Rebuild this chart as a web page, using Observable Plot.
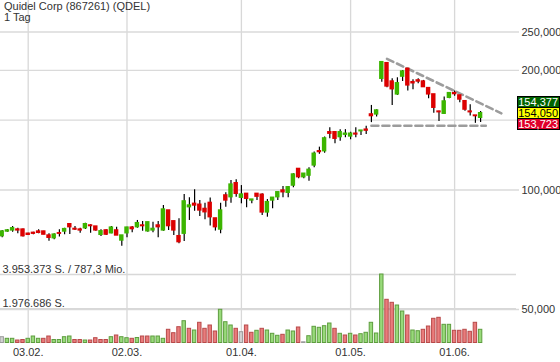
<!DOCTYPE html>
<html>
<head>
<meta charset="utf-8">
<script src="https://cdn.jsdelivr.net/npm/d3@7"></script>
<script src="https://cdn.jsdelivr.net/npm/@observablehq/plot@0.6"></script>
<style>
  html, body { margin: 0; padding: 0; background: #fff; }
  #wrap { position: relative; width: 560px; height: 362px; overflow: hidden;
          font-family: "Liberation Sans", Arial, sans-serif; }
  #wrap svg { position: absolute; left: 0; top: 0; }
  .title { position: absolute; left: 4px; top: 1px; font-size: 11px; line-height: 11px; color: #333; white-space: nowrap; }
  .pbox { position: absolute; left: 517px; width: 43px; height: 11.3px; box-sizing: border-box;
          border: 1px solid #000; font-size: 11px; line-height: 10px; text-align: right; padding-right: 1px; }
</style>
</head>
<body>
<div id="wrap"></div>
<script>
// ---------- data ----------
const titleLines = ["Quidel Corp (867261) (QDEL)", "1 Tag"];
const holidays = ["2020-02-17", "2020-04-10", "2020-05-25"];
const firstDay = "2020-01-27", lastAxisDay = "2020-06-12";

const opens  = [76.5,78.6,79.1,79.5,79.5,77.6,78.0,78.6,78.6,76.8,
                75.6,77.8,78.6,82.0,79.8,79.5,80.1,81.4,80.9,77.1,
                79.1,77.8,79.1,74.6,77.8,80.4,80.6,81.4,78.7,79.1,
                81.4,79.1,88.8,83.4,76.5,77.6,90.5,92.3,91.8,89.6,
                92.8,84.8,79.5,96.9,95.9,104.0,95.6,97.8,94.1,97.8,
                97.3,87.8,94.1,95.9,99.7,98.4,102.6,113.0,107.7,108.7,
                115.3,125.2,125.2,139.8,139.8,135.9,137.8,136.4,138.6,140.6,
                141.9,155.0,155.0,190.6,208.7,187.6,174.1,193.0,202.0,186.9,
                188.8,187.6,180.6,174.1,157.6,155.6,170.7,175.4,173.1,167.4,
                157.6,154.0,152.0];
const closes = [78.6,79.1,80.1,79.1,76.5,77.1,77.6,78.0,77.2,75.8,
                77.2,77.6,79.7,80.6,79.5,79.1,82.0,81.1,79.1,78.7,
                77.2,80.4,76.8,76.8,80.4,79.7,82.5,81.1,82.9,79.8,
                80.6,89.3,81.1,79.1,73.9,93.6,91.4,91.4,88.8,87.9,
                85.4,80.6,88.8,94.1,103.2,97.8,97.4,95.0,94.6,96.2,
                87.8,93.2,95.6,98.7,98.7,101.6,109.4,107.7,109.9,112.4,
                123.4,124.6,134.9,138.6,134.6,139.8,138.6,138.6,138.0,141.1,
                141.1,153.5,158.6,209.9,182.3,179.4,185.7,198.8,183.4,185.7,
                187.6,181.6,174.1,161.1,157.0,167.1,175.4,174.4,169.0,159.4,
                157.0,153.5,156.1];
const highs  = [79.1,79.5,80.9,80.1,79.7,77.8,78.3,79.4,78.7,77.6,
                77.6,79.4,80.1,82.2,80.9,80.1,82.5,81.7,80.9,79.4,
                79.4,80.9,80.6,76.8,80.6,80.9,83.8,83.3,82.9,82.9,
                83.3,91.4,88.8,83.4,84.6,97.4,95.6,100.1,94.1,92.6,
                95.4,84.8,92.6,98.4,105.7,106.1,102.6,97.8,94.6,97.8,
                97.8,94.6,95.6,98.7,102.0,102.0,109.9,113.0,109.9,113.7,
                124.6,128.2,135.9,143.5,139.8,141.9,141.9,139.8,143.5,141.1,
                144.7,163.3,159.2,209.9,208.7,190.6,191.7,200.0,202.0,189.5,
                190.6,188.8,180.6,174.1,157.9,171.4,175.4,177.5,173.1,167.4,
                163.9,154.0,157.6];
const lows   = [75.8,78.3,78.3,77.6,76.1,76.8,77.1,77.6,77.1,74.3,
                74.9,76.1,77.1,77.2,79.1,77.8,79.5,77.8,78.7,76.4,
                76.8,77.6,76.8,72.2,75.8,78.0,80.1,78.7,78.3,78.0,
                75.8,78.7,79.1,76.8,73.2,74.2,83.8,88.4,85.7,84.1,
                81.1,78.8,77.6,90.5,92.6,95.9,92.3,90.2,92.3,94.1,
                86.3,85.4,89.7,94.1,95.6,95.6,101.3,106.7,106.7,105.2,
                113.7,123.0,123.8,134.6,130.8,132.6,135.4,133.8,135.4,137.2,
                138.0,147.8,152.6,186.9,181.0,163.3,173.1,187.6,177.5,178.9,
                185.1,181.6,169.8,156.1,148.8,155.0,169.8,172.3,165.8,157.8,
                153.5,147.2,147.8];
const volumes = [335000,242000,242000,144000,173000,242000,375000,242000,242000,375000,
                 173000,173000,335000,375000,173000,173000,144000,144000,277000,173000,
                 173000,335000,433000,335000,277000,242000,289000,375000,375000,375000,
                 375000,242000,762000,566000,912000,1258000,819000,721000,1166000,819000,
                 1010000,664000,1916000,1200000,1010000,819000,623000,1010000,589000,704000,
                 819000,721000,531000,416000,473000,721000,664000,895000,40000,392000,
                 935000,877000,970000,1125000,819000,531000,433000,531000,433000,508000,
                 589000,1166000,548000,3953373,2493000,2320000,2164000,1818000,1587000,721000,
                 681000,762000,952000,1397000,1454000,1050000,1050000,704000,704000,762000,
                 646000,1166000,762000];
const volumeDirection = ["n","u","u","d","d","u","u","u","d","d",
                         "u","u","u","u","d","d","u","d","d","d",
                         "d","u","d","u","u","d","u","d","d","u",
                         "u","u","d","d","d","u","d","u","d","d",
                         "d","d","u","u","u","d","n","d","d","u",
                         "d","u","u","u","d","u","u","d","n","u",
                         "u","u","u","u","d","u","d","u","d","u",
                         "u","u","u","u","d","d","u","u","d","u",
                         "u","d","d","d","d","u","u","d","d","d",
                         "d","d","u"];
const volumeMax = 3953373;
const volumeLabels = ["3.953.373 S. / 787,3 Mio.", "1.976.686 S."];
const priceGrid = [50, 100, 150, 200, 250];
const priceTickLabels = [50, 100, 200, 250];   // the 150 label sits behind the quote boxes
const dateTicks = ["2020-02-03", "2020-03-02", "2020-04-01", "2020-05-01", "2020-06-01"];
const quoteValues = ["154,377", "154,050", "153,723"];
const trendUpperDates = ["2020-05-12", "2020-06-12"];
const trendUpperPrices = [214, 156];
const supportDates = ["2020-05-07", "2020-06-09"];
const supportPrices = [145.1, 145.1];

// ---------- build ----------
const dates = [];
for (let d = new Date(firstDay + "T00:00:00Z"); d <= new Date(lastAxisDay + "T00:00:00Z"); d.setUTCDate(d.getUTCDate() + 1)) {
  const wd = d.getUTCDay(), s = d.toISOString().slice(0, 10);
  if (wd > 0 && wd < 6 && !holidays.includes(s)) dates.push(s);
}
const candles = opens.map((o, i) => ({
  date: dates[i], open: o, close: closes[i], high: highs[i], low: lows[i],
  up: closes[i] >= o
}));
const vols = volumes.map((v, i) => ({date: dates[i], vol: v, dir: volumeDirection[i]}));
const trendUpper = trendUpperDates.map((d, i) => ({date: d, price: trendUpperPrices[i]}));
const support = supportDates.map((d, i) => ({date: d, price: supportPrices[i]}));
const volumeLevels = [{v: volumeMax, t: volumeLabels[0]}, {v: volumeMax / 2, t: volumeLabels[1]}];

const xOpts = {type: "band", domain: dates, range: [-0.9, 503.5], paddingInner: 0.15, paddingOuter: 0.075, align: 0.5, round: false};
const font = {fontFamily: "'Liberation Sans', Arial, sans-serif", fontSize: "11px", color: "#333", background: "transparent", overflow: "visible"};
const fmtDate = d => `${d.slice(8, 10)}.${d.slice(5, 7)}.`;
const fmtPrice = v => v.toFixed(3).replace(".", ",");

const pricePlot = Plot.plot({
  width: 560, height: 362,
  marginTop: 0, marginBottom: 20, marginLeft: 0, marginRight: 41,
  style: font,
  x: xOpts,
  y: {type: "log", domain: [50, 250], range: [309, 31.5]},
  color: {type: "identity"},
  marks: [
    Plot.ruleX(dateTicks, {stroke: "#d8d8d8", strokeWidth: 1.3}),
    Plot.ruleY(priceGrid, {stroke: "#dadada", strokeWidth: 1.3}),
    Plot.axisX(dateTicks, {anchor: "bottom", tickSize: 0, tickPadding: 6, tickFormat: fmtDate, label: null}),
    Plot.axisY(priceTickLabels, {anchor: "right", tickSize: 0, tickPadding: 2, tickFormat: fmtPrice, label: null}),
    Plot.line(trendUpper, {x: "date", y: "price", stroke: "#9c9c9c", strokeWidth: 2.6, strokeDasharray: "7,4"}),
    Plot.line(support, {x: "date", y: "price", stroke: "#9c9c9c", strokeWidth: 2.6, strokeDasharray: "7,4"}),
    Plot.ruleX(candles, {x: "date", y1: "low", y2: "high", stroke: "#000", strokeWidth: 1.2}),
    Plot.barY(candles, {
      x: "date",
      y1: d => Math.min(d.open, d.close),
      y2: d => Math.max(d.open, d.close),
      fill: d => d.up ? "#3cb500" : "#dc0000",
      insetTop: -0.7, insetBottom: -0.7
    })
  ]
});

const fillFor = {u: "#92d873", d: "#e87575", n: "#d0d0d0"};
const strokeFor = {u: "#5e9d3f", d: "#b84a4a", n: "#9a9a9a"};
const volumePlot = Plot.plot({
  width: 560, height: 362,
  marginTop: 0, marginBottom: 20, marginLeft: 0, marginRight: 44,
  style: font,
  x: {...xOpts, axis: null},
  y: {type: "linear", domain: [0, volumeMax], range: [342.5, 274], axis: null},
  color: {type: "identity"},
  marks: [
    Plot.ruleY(volumeLevels, {y: "v", stroke: "#d8d8d8", strokeWidth: 1.6}),
    Plot.text(volumeLevels, {y: "v", text: "t", frameAnchor: "left", textAnchor: "start", dx: 2, dy: -5.5, fill: "#333"}),
    Plot.barY(vols, {
      x: "date", y: "vol",
      fill: d => fillFor[d.dir], stroke: d => strokeFor[d.dir],
      strokeWidth: 1, fillOpacity: 0.95, insetLeft: 0.5, insetRight: 0.5
    })
  ]
});

const wrap = document.getElementById("wrap");
wrap.appendChild(pricePlot);
wrap.appendChild(volumePlot);

const title = document.createElement("div");
title.className = "title";
title.innerHTML = titleLines.map(t => `<div>${t}</div>`).join("");
wrap.appendChild(title);

// quote boxes centered on the last close
const yMid = pricePlot.scale("y").apply(closes[closes.length - 1]);
const boxStyles = [
  {bg: "#006400", fg: "#fff"},
  {bg: "#ffff00", fg: "#000"},
  {bg: "#e0002a", fg: "#fff"}
];
quoteValues.forEach((q, i) => {
  const b = document.createElement("div");
  b.className = "pbox";
  b.style.top = (yMid - 16.5 + i * 11) + "px";
  b.style.background = boxStyles[i].bg;
  b.style.color = boxStyles[i].fg;
  b.textContent = q;
  wrap.appendChild(b);
});
</script>
</body>
</html>
